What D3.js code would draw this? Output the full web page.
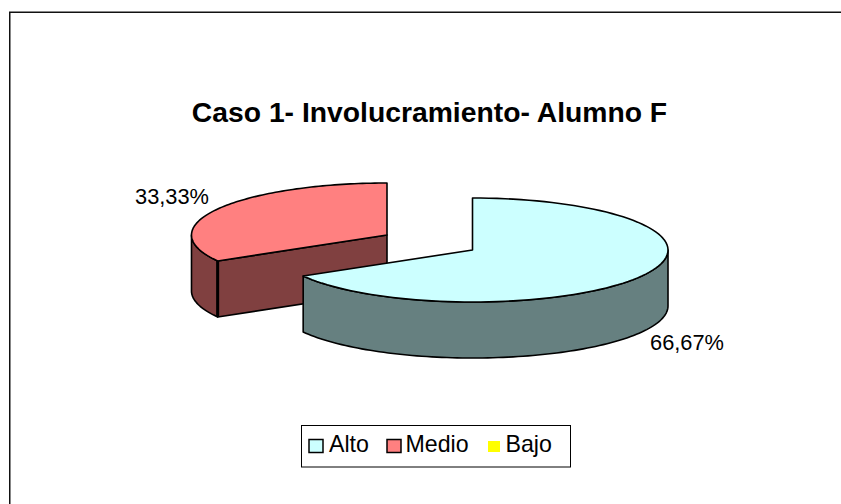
<!DOCTYPE html>
<html><head><meta charset="utf-8">
<script src="https://cdnjs.cloudflare.com/ajax/libs/d3/7.8.5/d3.min.js"></script>
<style>html,body{margin:0;padding:0;background:#fff}svg{display:block}text{font-family:"Liberation Sans",Arial,sans-serif;fill:#000}</style>
</head><body><svg id="c" width="841" height="504"></svg>
<script>
const titleText = "Caso 1- Involucramiento- Alumno F";
const categories = ["Alto","Medio","Bajo"];
const values = [66.67,33.33,0];
const valueLabels = ["66,67%","33,33%",""];
const topColors = ["#CCFFFF","#FF8080","#FFFF00"];
const sideColors = ["#668080","#804040","#808000"];

const svg = d3.select("#c");
svg.append("path").attr("d","M9.75 504V12.25H841").attr("fill","none").attr("stroke","#111").attr("stroke-width",1.5);
svg.append("text").attr("x",429.5).attr("y",121.5).attr("text-anchor","middle").attr("font-weight","bold").attr("font-size",28.3).text(titleText);

const rx=195.5, ry=52, depth=56;
const pie=d3.pie().sort(null).value(d=>d)(values);
const centers=[[472.5,250],[387,235]];
const pt=(c,a,dy=0)=>[c[0]+rx*Math.sin(a),c[1]-ry*Math.cos(a)+dy];
const arcPts=(c,a0,a1,dy=0)=>d3.range(0,101).map(i=>pt(c,a0+(a1-a0)*i/100,dy));
const line=d3.line();

// back slice first, then front slice
[1,0].forEach(i=>{
  const p=pie[i], c=centers[i];
  const g=svg.append("g").attr("stroke","#000").attr("stroke-width",1.6).attr("stroke-linejoin","round");
  const lo=Math.max(p.startAngle,Math.PI/2), hi=Math.min(p.endAngle,1.5*Math.PI);
  if(hi>lo){
    const outer=arcPts(c,lo,hi);
    const lower=arcPts(c,lo,hi,depth).reverse();
    g.append("path").attr("d",line(outer.concat(lower))+"Z").attr("fill",sideColors[i]);
  }
  // visible radial wall (start of back slice, facing the viewer)
  if(p.startAngle>Math.PI/2 && p.startAngle<1.5*Math.PI){
    const e=pt(c,p.startAngle);
    g.append("path").attr("d",line([c,e,[e[0],e[1]+depth],[c[0],c[1]+depth]])+"Z").attr("fill",sideColors[i]);
    g.append("path").attr("d",line([e,[e[0],e[1]+depth]])).attr("stroke-width",3);
  }
  g.append("path").attr("d",line([c].concat(arcPts(c,p.startAngle,p.endAngle)))+"Z").attr("fill",topColors[i]);
});

// data labels
svg.append("text").attr("x",687).attr("y",350).attr("text-anchor","middle").attr("font-size",21.8).text(valueLabels[0]);
svg.append("text").attr("x",172).attr("y",204).attr("text-anchor","middle").attr("font-size",21.8).text(valueLabels[1]);

// legend
svg.append("rect").attr("x",301.5).attr("y",425.5).attr("width",269).attr("height",41.5).attr("fill","#fff").attr("stroke","#000");
const swX=[309,387,487], txX=[329,405.5,505.5];
categories.forEach((n,i)=>{
  const has=values[i]>0;
  svg.append("rect").attr("x",swX[i]+(has?0:1)).attr("y",has?439.5:441).attr("width",has?14:12).attr("height",has?13:11).attr("fill",topColors[i])
    .attr("stroke",has?"#000":"none").attr("stroke-width",1.5);
  svg.append("text").attr("x",txX[i]).attr("y",452).attr("font-size",23.2).text(n);
});
</script></body></html>
